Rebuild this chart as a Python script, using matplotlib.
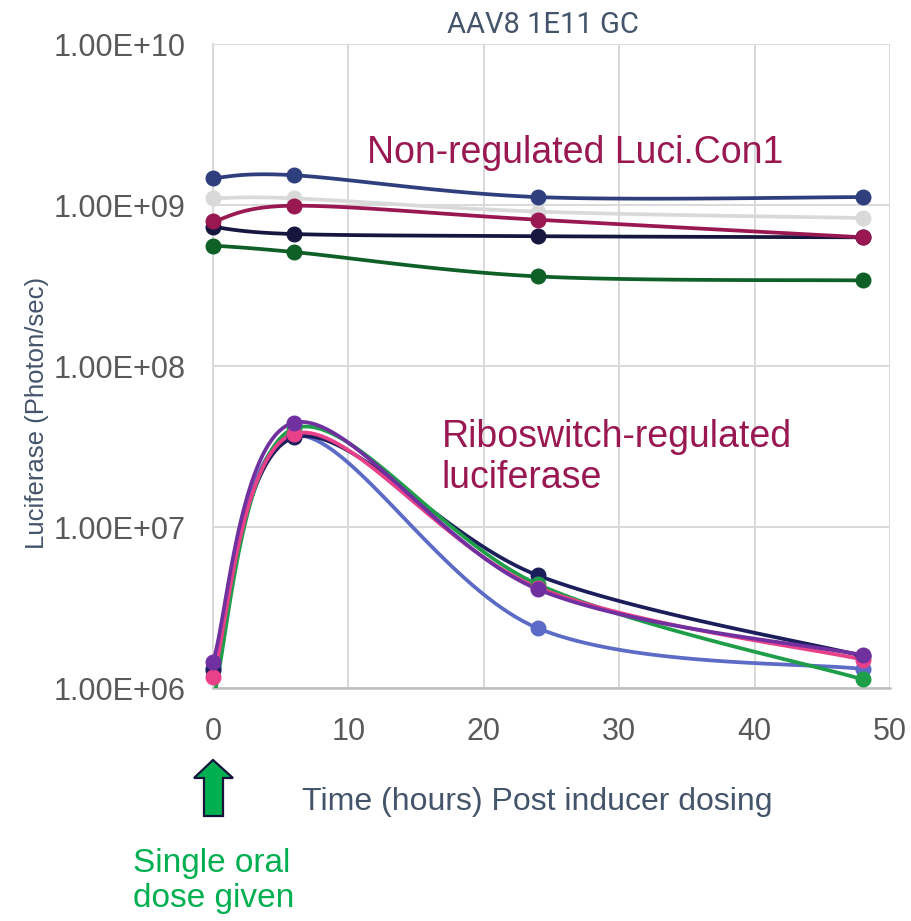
import numpy as np
import matplotlib
matplotlib.use('Agg')
import matplotlib.pyplot as plt
from matplotlib.patches import Polygon

# ---- data ----
hours = [0, 6, 24, 48]

# non-regulated Luci.Con1 animals
con_blue = [1.47e9, 1.53e9, 1.12e9, 1.12e9]
con_gray = [1.10e9, 1.10e9, 9.1e8, 8.3e8]
con_navy = [7.3e8, 6.6e8, 6.4e8, 6.3e8]
con_crimson = [7.9e8, 9.9e8, 8.1e8, 6.3e8]
con_green = [5.6e8, 5.1e8, 3.6e8, 3.4e8]

# riboswitch-regulated luciferase animals
ribo_blue = [1.33e6, 3.7e7, 2.35e6, 1.31e6]
ribo_navy = [1.30e6, 3.6e7, 5.0e6, 1.58e6]
ribo_green = [8.5e5, 4.1e7, 4.4e6, 1.13e6]
ribo_pink = [1.17e6, 3.8e7, 4.2e6, 1.50e6]
ribo_purple = [1.46e6, 4.45e7, 4.1e6, 1.60e6]

series = [
    (con_gray, '#D9D9D9'),
    (con_blue, '#2F3F7E'),
    (con_navy, '#16163E'),
    (con_crimson, '#9A1852'),
    (con_green, '#0E6027'),
    (ribo_blue, '#5B6BC6'),
    (ribo_navy, '#1C1E5C'),
    (ribo_green, '#1F9E49'),
    (ribo_pink, '#E8418A'),
    (ribo_purple, '#7030A0'),
]

y_ticks = [1e6, 1e7, 1e8, 1e9, 1e10]
x_ticks = [0, 10, 20, 30, 40, 50]

TEXT = '#44546A'
TICK = '#595959'
GRID = '#D9D9D9'
CRIMSON = '#9A1852'
W, H = 912, 921


def smooth(x, y, n=40):
    # Excel-style smoothed line (cardinal bezier) in (x, log y) space
    p = np.column_stack([np.asarray(x, float), np.log10(y)])
    out = [p[0]]
    for i in range(len(p) - 1):
        p0 = p[i - 1] if i > 0 else p[i]
        p1, p2 = p[i], p[i + 1]
        p3 = p[i + 2] if i + 2 < len(p) else p[i + 1]
        c1 = p1 + (p2 - p0) / 6
        c2 = p2 - (p3 - p1) / 6
        t = np.linspace(0, 1, n)[1:, None]
        seg = ((1 - t) ** 3 * p1 + 3 * (1 - t) ** 2 * t * c1
               + 3 * (1 - t) * t ** 2 * c2 + t ** 3 * p2)
        out.extend(seg)
    out = np.array(out)
    return out[:, 0], 10 ** out[:, 1]


def ftext(px, py, s, **kw):
    # text placed in figure pixel coordinates (from the top-left)
    return fig.text(px / W, 1 - py / H, s, **kw)


fig = plt.figure(figsize=(W / 100, H / 100), dpi=100)
plt.rcParams['font.family'] = ['Liberation Sans', 'DejaVu Sans']
ax = fig.add_axes([213 / W, 1 - 688 / H, 677 / W, 644 / H])

for vals, col in series:
    sx, sy = smooth(hours, vals)
    ax.plot(sx, sy, '-', color=col, lw=2.7, solid_capstyle='round', zorder=3)
    v = np.array(vals)
    keep = v >= y_ticks[0]
    ax.plot(np.array(hours)[keep], v[keep], 'o', color=col, ms=10.5,
            mec=col, clip_on=False, zorder=4)

ax.set_yscale('log')
ax.set_xlim(0, 50)
ax.set_ylim(1e6, 1e10)
ax.set_xticks(x_ticks)
ax.set_yticks(y_ticks)
ax.set_yticklabels(['%.2E' % v for v in y_ticks])
ax.yaxis.set_minor_locator(matplotlib.ticker.NullLocator())
ax.tick_params(length=0, labelsize=22, labelcolor=TICK)
ax.tick_params(axis='x', pad=21)
ax.tick_params(axis='y', pad=20)
ax.grid(True, color=GRID, lw=1.4)
for s in ['top', 'right']:
    ax.spines[s].set_visible(False)
ax.spines['left'].set_color(GRID)
ax.spines['left'].set_linewidth(1.4)
ax.spines['bottom'].set_color('#BFBFBF')
ax.spines['bottom'].set_linewidth(1.8)

ftext(543, 33, 'AAV8 1E11 GC', fontsize=21, color=TEXT, ha='center',
      va='baseline', family=['Roboto', 'DejaVu Sans'])

ftext(367, 163, 'Non-regulated Luci.Con1', fontsize=27, color=CRIMSON,
      ha='left', va='baseline')
ftext(442, 447, 'Riboswitch-regulated', fontsize=27, color=CRIMSON,
      ha='left', va='baseline')
ftext(442, 488, 'luciferase', fontsize=27, color=CRIMSON,
      ha='left', va='baseline')

ftext(537, 810, 'Time (hours) Post inducer dosing', fontsize=23,
      color=TEXT, ha='center', va='baseline')
ftext(37, 413, 'Luciferase (Photon/sec)', fontsize=18.5, color=TEXT,
      ha='center', va='center', rotation=90)

# arrow marking the oral dose
arrow_px = [(213, 760), (233, 778), (223, 778), (223, 816), (204, 816),
            (204, 778), (194, 778)]
arrow = Polygon([(px / W, 1 - py / H) for px, py in arrow_px], closed=True,
                transform=fig.transFigure, fc='#00B050', ec='#14143C', lw=1.6)
fig.patches.append(arrow)
ftext(133, 872, 'Single oral', fontsize=24, color='#00B050', ha='left',
      va='baseline')
ftext(133, 907, 'dose given', fontsize=24, color='#00B050', ha='left',
      va='baseline')

fig.savefig('out.png', dpi=100, facecolor='white')
